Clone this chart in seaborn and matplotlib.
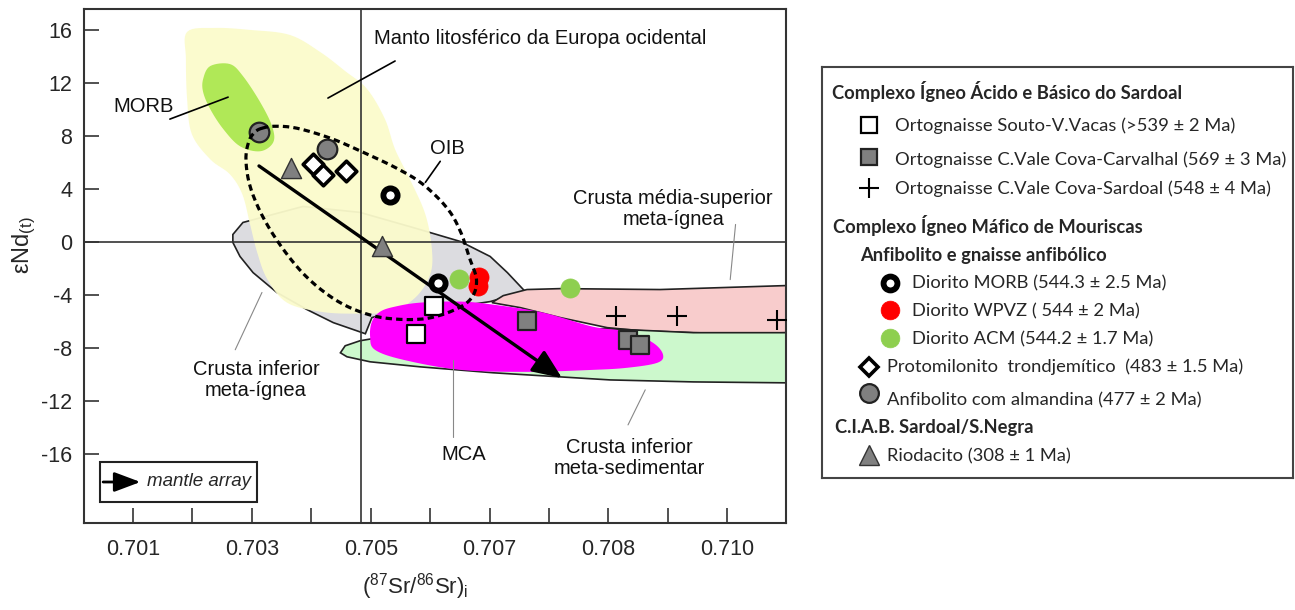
import numpy as np
import matplotlib
matplotlib.use("Agg")
import matplotlib.pyplot as plt
import seaborn as sns
from matplotlib.patches import Polygon, Rectangle

sns.set_theme(style="white")
plt.rcParams["font.family"] = ["Liberation Sans", "DejaVu Sans"]
plt.rcParams["mathtext.fontset"] = "custom"
plt.rcParams["mathtext.rm"] = "Liberation Sans"
plt.rcParams["mathtext.it"] = "Liberation Sans:italic"

# --- samples: (87Sr/86Sr)i and eNd(t)
souto_x = [0.70606, 0.70576]
souto_y = [-4.80, -6.92]
carvalhal_x = [0.70763, 0.70933, 0.70954]
carvalhal_y = [-5.98, -7.37, -7.75]
sardoal_x = [0.70912, 0.71016, 0.71184]
sardoal_y = [-5.61, -5.61, -5.91]
morb_x = [0.70532, 0.70614]
morb_y = [3.56, -3.08]
wpvz_x = [0.70682, 0.70681]
wpvz_y = [-2.60, -3.28]
acm_x = [0.70648, 0.70835]
acm_y = [-2.77, -3.45]
trond_x = [0.70403, 0.70420, 0.70458]
trond_y = [5.89, 5.05, 5.38]
almand_x = [0.70312, 0.70426]
almand_y = [8.35, 7.02]
riod_x = [0.70366, 0.70519]
riod_y = [5.64, -0.30]

# mantle array
array_x = [0.70312, 0.70822]
array_y = [5.76, -10.27]

# --- reference fields
manto_x = [0.70191, 0.70238, 0.70297, 0.70364, 0.70415, 0.70457, 0.70494, 0.70524, 0.70541,
           0.70566, 0.70592, 0.70603, 0.70600, 0.70575, 0.70533, 0.70470, 0.70415, 0.70359,
           0.70326, 0.70309, 0.70297, 0.70284, 0.70263, 0.70230, 0.70199, 0.70191, 0.70189]
manto_y = [15.89, 16.19, 16.04, 15.66, 14.37, 12.93, 11.57, 9.30, 7.02,
           4.75, 2.10, -0.55, -2.45, -4.19, -5.25, -5.40, -5.25, -4.57,
           -2.80, -0.78, 1.34, 3.61, 5.13, 6.26, 8.16, 10.81, 13.84]
morb_fx = [0.70218, 0.70230, 0.70263, 0.70285, 0.70314, 0.70334, 0.70336, 0.70314,
           0.70280, 0.70252, 0.70230, 0.70218]
morb_fy = [12.33, 13.31, 13.46, 12.55, 10.58, 8.76, 7.55, 6.87, 7.25, 8.54, 10.05, 11.34]
cimi_x = [0.70285, 0.70386, 0.70482, 0.70571, 0.70651, 0.70701, 0.70730, 0.70760, 0.70701,
          0.70667, 0.70550, 0.70502, 0.70491, 0.70437, 0.70393, 0.70342, 0.70302, 0.70280,
          0.70268, 0.70268]
cimi_y = [1.49, 2.70, 2.25, 1.11, 0.05, -1.08, -2.30, -3.73, -4.49, -4.72, -5.10, -5.70,
          -6.92, -6.08, -5.10, -3.80, -2.30, -1.08, -0.02, 0.58]
cms_x = [0.70704, 0.70723, 0.70763, 0.70819, 0.70987, 0.71199, 0.71199, 0.71127, 0.71043,
         0.70954, 0.70898, 0.70819, 0.70752]
cms_y = [-4.57, -4.04, -3.58, -3.51, -3.58, -3.28, -6.84, -6.92, -6.84, -6.69, -6.46, -5.70, -4.95]
cis_x = [0.70449, 0.70457, 0.70482, 0.70502, 0.70583, 0.70752, 0.70898, 0.71043, 0.71199,
         0.71199, 0.71043, 0.70903, 0.70819, 0.70706, 0.70583, 0.70499, 0.70460]
cis_y = [-8.36, -7.83, -7.45, -7.30, -7.07, -6.61, -6.54, -6.84, -6.84,
         -10.63, -10.56, -10.41, -10.18, -9.87, -9.42, -9.04, -8.66]
mca_x = [0.70499, 0.70502, 0.70516, 0.70541, 0.70583, 0.70651, 0.70706, 0.70790, 0.70874,
         0.70932, 0.70975, 0.70992, 0.70982, 0.70932, 0.70874, 0.70763, 0.70651, 0.70555, 0.70507]
mca_y = [-7.14, -6.01, -5.25, -4.87, -4.57, -4.49, -4.72, -5.32, -6.39,
         -6.76, -7.60, -8.51, -9.12, -9.49, -9.65, -9.80, -9.65, -8.89, -8.13]
oib_x = [0.70317, 0.70339, 0.70376, 0.70432, 0.70487, 0.70544, 0.70588, 0.70629, 0.70651,
         0.70666, 0.70678, 0.70670, 0.70642, 0.70592, 0.70533, 0.70486, 0.70440, 0.70393,
         0.70353, 0.70319, 0.70297, 0.70290, 0.70295, 0.70305]
oib_y = [8.61, 8.76, 8.61, 7.86, 6.80, 5.58, 4.37, 2.55, 0.81,
         -1.16, -2.83, -4.19, -5.10, -5.78, -5.78, -5.32, -4.34, -2.67,
         -0.55, 1.87, 4.22, 6.26, 7.63, 8.31]

x_ticks = [0.701, 0.702, 0.703, 0.704, 0.705, 0.706, 0.707, 0.708, 0.709, 0.710, 0.711]
x_tick_labels = ["0.701", "", "0.703", "", "0.705", "", "0.707", "", "0.708", "", "0.710"]
y_ticks = [-16, -12, -8, -4, 0, 4, 8, 12, 16]


def smooth_closed(xs, ys, n=12):
    p = np.column_stack([xs, ys])
    out = []
    m = len(p)
    for i in range(m):
        p0, p1, p2, p3 = p[i - 1], p[i], p[(i + 1) % m], p[(i + 2) % m]
        for t in np.linspace(0, 1, n, endpoint=False):
            t2, t3 = t * t, t * t * t
            out.append(0.5 * ((2 * p1) + (-p0 + p2) * t + (2 * p0 - 5 * p1 + 4 * p2 - p3) * t2
                              + (-p0 + 3 * p1 - 3 * p2 + p3) * t3))
    out.append(out[0])
    out = np.array(out)
    return out[:, 0], out[:, 1]


fig = plt.figure(figsize=(12.95, 6.10), dpi=100)
ax = fig.add_axes([0.0651, 0.1431, 0.5419, 0.8417])

def field(xs, ys, fc, z, ec="none", lw=0, alpha=1.0, smooth=True):
    if smooth:
        xs, ys = smooth_closed(xs, ys, 8)
    ax.add_patch(Polygon(np.column_stack([xs, ys]), closed=True, facecolor=fc,
                         edgecolor=ec, lw=lw, alpha=alpha, zorder=z))

field(cimi_x, cimi_y, "#dcdce0", 1, ec="#222222", lw=1.2, smooth=False)
field(cms_x, cms_y, "#f8cccc", 1, ec="#222222", lw=1.2, smooth=False)
field(cis_x, cis_y, "#ccf8cc", 1, ec="#222222", lw=1.2, smooth=False)
field(manto_x, manto_y, "#fbfbcc", 2, alpha=0.95)
field(morb_fx, morb_fy, "#b0e857", 3)
field(mca_x, mca_y, "#ff00ff", 4)

ax.axvline(0.704833, color="#333333", lw=1.2, zorder=5)
ax.axhline(0, color="#333333", lw=1.2, zorder=5)

ax.annotate("", xy=(array_x[1], array_y[1]), xytext=(array_x[0], array_y[0]),
            arrowprops=dict(arrowstyle="-|>,head_length=0.9,head_width=0.38", mutation_scale=20,
                            color="black", lw=2.4, shrinkA=0, shrinkB=0), zorder=7)

# samples
sns.scatterplot(x=souto_x, y=souto_y, marker="s", s=150, color="white", edgecolor="black",
                linewidth=1.6, ax=ax, zorder=8)
sns.scatterplot(x=carvalhal_x, y=carvalhal_y, marker="s", s=160, color="#808080", edgecolor="#222222",
                linewidth=1.6, ax=ax, zorder=8)
sns.scatterplot(x=sardoal_x, y=sardoal_y, marker="+", s=220, color="black", linewidth=1.5,
                ax=ax, zorder=8)
sns.scatterplot(x=acm_x, y=acm_y, marker="o", s=190, color="#8ecf4f", edgecolor="#8ecf4f",
                linewidth=0.5, ax=ax, zorder=8)
sns.scatterplot(x=wpvz_x, y=wpvz_y, marker="o", s=190, color="#ff0000", edgecolor="#ff0000",
                linewidth=0.5, ax=ax, zorder=8)
sns.scatterplot(x=morb_x, y=morb_y, marker="o", s=105, color="white", edgecolor="black",
                linewidth=4.2, ax=ax, zorder=9)
sns.scatterplot(x=trond_x, y=trond_y, marker="D", s=110, color="white", edgecolor="black",
                linewidth=2.6, ax=ax, zorder=9)
sns.scatterplot(x=almand_x, y=almand_y, marker="o", s=200, color="#808080", edgecolor="#222222",
                linewidth=1.6, ax=ax, zorder=9)
sns.scatterplot(x=riod_x, y=riod_y, marker="^", s=210, color="#808080", edgecolor="#333333",
                linewidth=1.0, ax=ax, zorder=9)

# dashed OIB field, drawn over the samples
ex, ey = smooth_closed(oib_x, oib_y, 10)
ax.plot(ex, ey, color="black", lw=2.3, ls=(0, (2.0, 1.3)), zorder=10)

# field names and leaders
fs = 14.5
labels = [
    ("Manto litosférico da Europa ocidental", 0.70505, 15.4, "left"),
    ("MORB", 0.70117, 10.28, "center"),
    ("OIB", 0.70629, 7.10, "center"),
    ("Crusta média-superior\nmeta-ígnea", 0.71009, 2.48, "center"),
    ("Crusta inferior\nmeta-ígnea", 0.70307, -10.40, "center"),
    ("MCA", 0.70656, -16.01, "center"),
    ("Crusta inferior\nmeta-sedimentar", 0.70935, -16.31, "center"),
]
for txt, tx, ty, ha in labels:
    ax.text(tx, ty, txt, fontsize=fs, ha=ha, va="center", linespacing=1.15, zorder=11, color="#111111")

leaders = [
    ([0.70541, 0.70428], [13.69, 10.89], "black"),
    ([0.70162, 0.70260], [9.30, 10.96], "black"),
    ([0.70617, 0.70592], [6.11, 4.52], "black"),
    ([0.71114, 0.71105], [1.34, -2.83], "#888888"),
    ([0.70272, 0.70317], [-8.13, -3.80], "#888888"),
    ([0.70639, 0.70639], [-14.75, -8.89], "#888888"),
    ([0.70933, 0.70962], [-13.81, -11.16], "#888888"),
]
for lx, ly, c in leaders:
    ax.plot(lx, ly, color=c, lw=1.2 if c == "black" else 0.8, zorder=11)

# mantle array key
ax.add_patch(Rectangle((0.0224, 0.0403), 0.2237, 0.0779, transform=ax.transAxes,
                       facecolor="white", edgecolor="#222222", lw=1.5, zorder=12))
ax.annotate("", xy=(0.0800, 0.0793), xytext=(0.0268, 0.0793), xycoords="axes fraction",
            arrowprops=dict(arrowstyle="-|>,head_length=0.8,head_width=0.3", mutation_scale=20,
                            color="black", lw=2.0, shrinkA=0, shrinkB=0), zorder=13)
ax.text(0.0894, 0.0793, "mantle array", transform=ax.transAxes, fontsize=13.5, style="italic",
        va="center", ha="left", zorder=13)

ax.set_xlim(0.70018, 0.71199)
ax.set_ylim(-21.2, 17.6)
ax.set_xticks(x_ticks)
ax.set_xticklabels(x_tick_labels)
ax.set_yticks(y_ticks)
ax.set_yticklabels([str(v) for v in y_ticks])
ax.tick_params(direction="in", length=11, width=1.2, color="#333333", labelsize=15.5,
               left=True, bottom=True, top=False, right=False)
ax.tick_params(axis="y", pad=8.5)
ax.tick_params(axis="x", pad=12)
for sp in ax.spines.values():
    sp.set_color("#333333")
    sp.set_linewidth(1.5)

ax.set_xlabel(r"$(^{87}\mathrm{Sr}/^{86}\mathrm{Sr})_{\mathrm{i}}$", fontsize=16)
ax.xaxis.set_label_coords(0.471, -0.095)
ax.set_ylabel("εNd$_{\\mathrm{(t)}}$", fontsize=17)
ax.yaxis.set_label_coords(-0.066, 0.54)

# --- legend panel (pixel layout)
lax = fig.add_axes([822 / 1295, 1 - 478 / 610, (1293 - 822) / 1295, (478 - 67) / 610])
lax.set_xlim(822, 1293)
lax.set_ylim(478, 67)
lax.set_xticks([])
lax.set_yticks([])
for sp in lax.spines.values():
    sp.set_color("#444444")
    sp.set_linewidth(1.5)

lfont = ["Lato", "DejaVu Sans"]
lfs = 13.2
headers = [
    ("Complexo Ígneo Ácido e Básico do Sardoal", 832, 92),
    ("Complexo Ígneo Máfico de Mouriscas", 833, 225),
    ("Anfibolito e gnaisse anfibólico", 860, 255),
    ("C.I.A.B. Sardoal/S.Negra", 835, 428),
]
for txt, hx, hy in headers:
    lax.text(hx, hy, txt, fontsize=lfs, fontweight="bold", family=lfont, va="center", ha="left")

entries = [
    ("s", 12, "white", "black", 1.6, 869, 125, "Ortognaisse Souto-V.Vacas (>539 ± 2 Ma)", 895, 126),
    ("s", 12, "#808080", "#222222", 1.6, 869, 157, "Ortognaisse C.Vale Cova-Carvalhal (569 ± 3 Ma)", 895, 160),
    ("+", 15, "black", "black", 1.5, 869, 188, "Ortognaisse C.Vale Cova-Sardoal (548 ± 4 Ma)", 895, 189),
    ("o", 10, "white", "black", 4.2, 890, 283, "Diorito MORB (544.3 ± 2.5 Ma)", 912, 283),
    ("o", 13.5, "#ff0000", "#ff0000", 0.5, 890, 310, "Diorito WPVZ ( 544 ± 2 Ma)", 912, 311),
    ("o", 13.5, "#8ecf4f", "#8ecf4f", 0.5, 890, 338, "Diorito ACM (544.2 ± 1.7 Ma)", 912, 339),
    ("D", 9.5, "white", "black", 2.6, 869, 367, "Protomilonito  trondjemítico  (483 ± 1.5 Ma)", 887, 367),
    ("o", 13.5, "#808080", "#222222", 1.6, 869, 393, "Anfibolito com almandina (477 ± 2 Ma)", 887, 400),
    ("^", 14, "#808080", "#333333", 1.0, 869, 455, "Riodacito (308 ± 1 Ma)", 887, 456),
]
for mk, ms, fc, ec, mew, mx, my, txt, tx, ty in entries:
    lax.plot([mx], [my], marker=mk, ms=ms, mfc=fc, mec=ec, mew=mew, ls="none")
    lax.text(tx, ty, txt, fontsize=lfs, family=lfont, va="center", ha="left")

fig.savefig("out.png", dpi=100)
